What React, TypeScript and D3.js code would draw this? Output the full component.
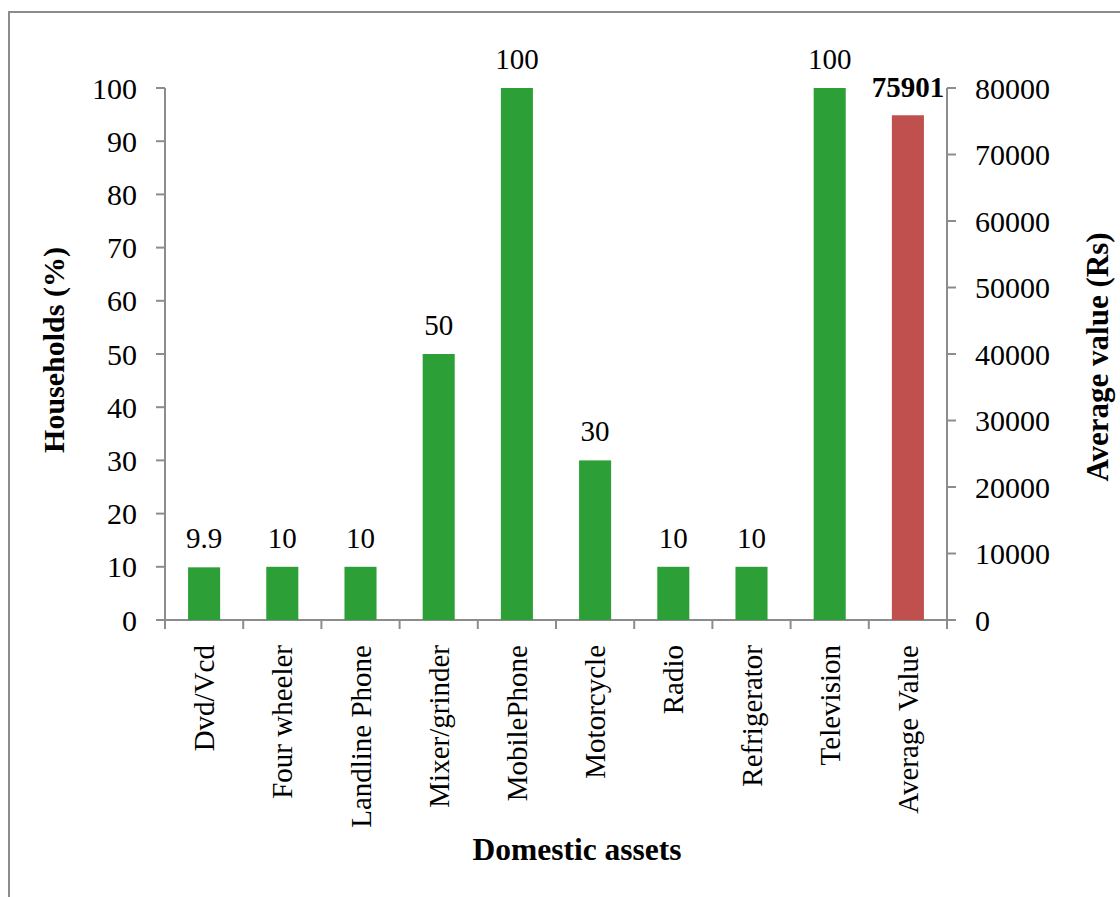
import React from "react";
import * as d3 from "d3";

const categories = ["Dvd/Vcd", "Four wheeler", "Landline Phone", "Mixer/grinder", "MobilePhone", "Motorcycle", "Radio", "Refrigerator", "Television", "Average Value"];
const householdPct = [9.9, 10, 10, 50, 100, 30, 10, 10, 100];
const averageValue = 75901;
const leftTicks = [0, 10, 20, 30, 40, 50, 60, 70, 80, 90, 100];
const rightTicks = [0, 10000, 20000, 30000, 40000, 50000, 60000, 70000, 80000];

const W = 1120, H = 897;
const FONT = "'Liberation Serif', 'Times New Roman', serif";
const GRAY = "#8c8c8c";
const GREEN = "#2ca036";
const RED = "#c0504d";

export default function App() {
  const x = d3.scaleBand<string>().domain(categories).range([165, 947]).padding(0);
  const yL = d3.scaleLinear().domain([0, 100]).range([620, 88]);
  const yR = d3.scaleLinear().domain([0, 80000]).range([620, 88]);
  const bw = x.bandwidth() * 0.41;
  const off = (x.bandwidth() - bw) / 2;
  const boundaries = categories.map((c) => x(c)!).concat([x.range()[1]]);

  return (
    <svg width={W} height={H} style={{ position: "absolute", left: 0, top: 0, background: "#fff" }} fontFamily={FONT}>
      <rect x={9} y={12} width={W} height={H} fill="#fff" stroke={GRAY} strokeWidth={2} />
      {/* left axis */}
      <line x1={165} x2={165} y1={yL(100)} y2={yL(0)} stroke={GRAY} strokeWidth={2} />
      {leftTicks.map((t) => (
        <g key={"l" + t}>
          <line x1={156} x2={165} y1={yL(t)} y2={yL(t)} stroke={GRAY} strokeWidth={2} />
          <text x={137} y={yL(t)} dy="0.35em" textAnchor="end" fontSize={30} fill="#000">{t}</text>
        </g>
      ))}
      {/* right axis */}
      <line x1={947} x2={947} y1={yR(80000)} y2={yR(0)} stroke={GRAY} strokeWidth={2} />
      {rightTicks.map((t) => (
        <g key={"r" + t}>
          <line x1={947} x2={956} y1={yR(t)} y2={yR(t)} stroke={GRAY} strokeWidth={2} />
          <text x={975} y={yR(t)} dy="0.35em" textAnchor="start" fontSize={30} fill="#000">{t}</text>
        </g>
      ))}
      {/* x axis */}
      <line x1={165} x2={947} y1={620} y2={620} stroke={GRAY} strokeWidth={2} />
      {boundaries.map((b, i) => (
        <line key={"xt" + i} x1={b} x2={b} y1={620} y2={629} stroke={GRAY} strokeWidth={2} />
      ))}
      {/* bars */}
      {householdPct.map((v, i) => (
        <g key={"b" + i}>
          <rect x={x(categories[i])! + off} y={yL(v)} width={bw} height={yL(0) - yL(v)} fill={GREEN} />
          <text x={x(categories[i])! + x.bandwidth() / 2} y={yL(v) - 19} textAnchor="middle" fontSize={29} fill="#000">{v}</text>
        </g>
      ))}
      <rect x={x(categories[9])! + off} y={yR(averageValue)} width={bw} height={yR(0) - yR(averageValue)} fill={RED} />
      <text x={x(categories[9])! + x.bandwidth() / 2} y={yR(averageValue) - 18} textAnchor="middle" fontSize={29} fontWeight="bold" fill="#000">{averageValue}</text>
      {/* category labels */}
      {categories.map((c) => {
        const cx = x(c)! + x.bandwidth() / 2;
        return (
          <text key={"c" + c} transform={`translate(${cx + 10},645) rotate(-90)`} textAnchor="end" fontSize={29} fill="#000">{c}</text>
        );
      })}
      {/* titles */}
      <text transform="translate(64,350) rotate(-90)" textAnchor="middle" fontSize={30} fontWeight="bold" fill="#000">Households (%)</text>
      <text transform="translate(1108,357) rotate(-90)" textAnchor="middle" fontSize={31} fontWeight="bold" fill="#000">Average value (Rs)</text>
      <text x={577} y={860} textAnchor="middle" fontSize={31.5} fontWeight="bold" fill="#000">Domestic assets</text>
    </svg>
  );
}
